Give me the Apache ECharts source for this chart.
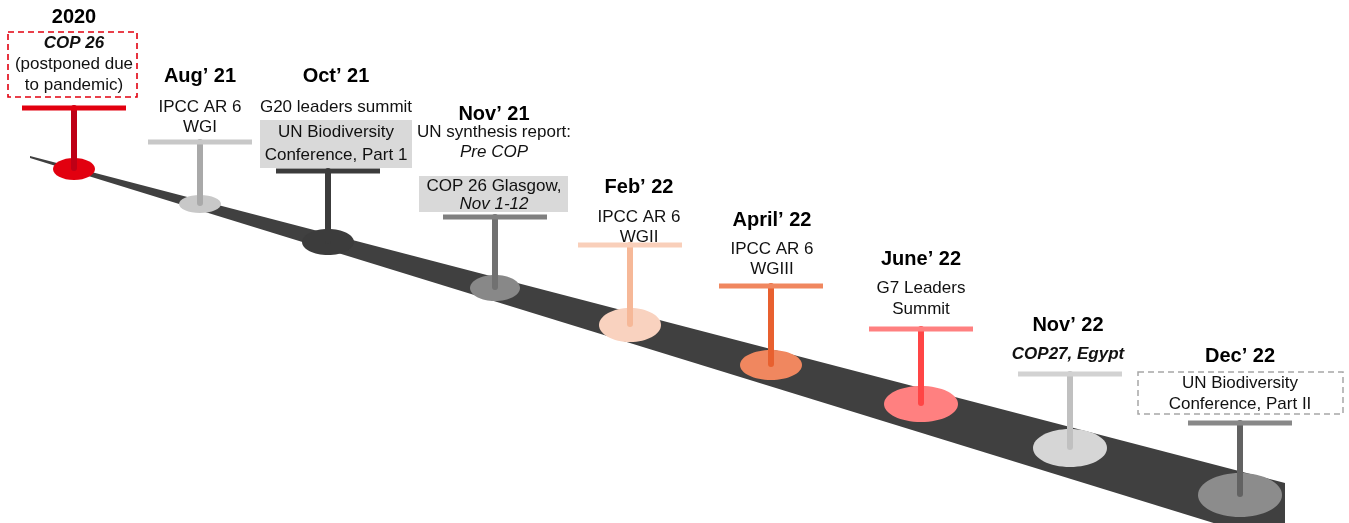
<!DOCTYPE html>
<html>
<head>
<meta charset="utf-8">
<script src="https://cdn.jsdelivr.net/npm/echarts@6/dist/echarts.min.js"></script>
<style>
html,body{margin:0;padding:0;background:#fff;}
#chart{width:1349px;height:523px;}
</style>
</head>
<body>
<div id="chart"></div>
<script>
// ---- data ----
const dates = ['2020', 'Aug\u2019 21', 'Oct\u2019 21', 'Nov\u2019 21', 'Feb\u2019 22', 'April\u2019 22', 'June\u2019 22', 'Nov\u2019 22', 'Dec\u2019 22'];
const notes = [
  ['COP 26', '(postponed due', 'to pandemic)'],
  ['IPCC AR 6', 'WGI'],
  ['G20 leaders summit'],
  ['UN synthesis report:', 'Pre COP'],
  ['IPCC AR 6', 'WGII'],
  ['IPCC AR 6', 'WGIII'],
  ['G7 Leaders', 'Summit'],
  ['COP27, Egypt'],
  []
];
const boxedNotes = [
  [], [], ['UN Biodiversity', 'Conference, Part 1'], ['COP 26 Glasgow,', 'Nov 1-12'],
  [], [], [], [], ['UN Biodiversity', 'Conference, Part II']
];
// timeline position of each event (x) and its place on the road (y)
const eventPos = [74, 200, 328, 495, 630, 771, 921, 1070, 1240];
const eventLevel = [169, 204, 242, 288, 325, 365, 404, 448, 495];
// height reached by each marker's stem (crossbar level)
const stemTop = [108, 142, 171, 217, 245, 286, 329, 374, 423];
// road outline
const roadOutline = [[30, 156], [1285, 483], [1285, 545], [30, 158]];

// ---- layout & style ----
const noteFonts = [
  ['bi', 'n', 'n'], ['n', 'n'], ['n'], ['n', 'i'], ['n', 'n'], ['n', 'n'], ['n', 'n'], ['bi'], []
];
const boxFonts = [[], [], ['n', 'n'], ['n', 'i'], [], [], [], [], ['n', 'n']];
const labelShift = [0, 0, 8, -1, 9, 1, 0, -2, 0];
const titleY = [17, 76, 76, 114, 187, 220, 259, 325, 356];
const noteY = [43, 107, 107, 132, 217, 249, 288, 354, 0];
const noteLH = [21, 20, 20, 20, 20, 20, 21, 20, 20];
const boxRect = [[8, 32, 137, 97], null, [260, 120, 412, 168], [419, 176, 568, 212], null, null, null, null, [1138, 372, 1343, 414]];
const boxStyle = ['redDash', null, 'grey', 'grey', null, null, null, null, 'greyDash'];
const boxLineY = [0, 0, 132, 186, 0, 0, 0, 0, 383];
const boxLH = [0, 0, 23, 18, 0, 0, 0, 0, 21];
const discRx = [21, 21, 26, 25, 31, 31, 37, 37, 42];
const discRy = [11, 9, 13, 13, 17, 15, 18, 19, 22];
const discColor = ['#E2000F', '#C8C8C8', '#3C3C3C', '#888888', '#F9D2BF', '#F0875F', '#FF8080', '#D6D6D6', '#8C8C8C'];
const stemColor = ['#BE0016', '#A9A9A9', '#3C3C3C', '#717171', '#F6B898', '#E8602F', '#FF4545', '#C0C0C0', '#626262'];
const barColor = ['#E2000F', '#C8C8C8', '#3C3C3C', '#808080', '#F9CFBA', '#F0875F', '#FF8080', '#D2D2D2', '#888888'];
const barHalfW = 52;
const FF = '"Liberation Sans", Arial, sans-serif';
function fontOf(code, size) {
  if (code === 'bi') return 'italic bold ' + size + 'px ' + FF;
  if (code === 'i') return 'italic ' + size + 'px ' + FF;
  if (code === 'b') return 'bold ' + size + 'px ' + FF;
  return size + 'px ' + FF;
}

const chart = echarts.init(document.getElementById('chart'), null, {renderer: 'canvas'});

function renderRoad(params, api) {
  const pts = roadOutline.map(p => api.coord(p));
  return {type: 'polygon', shape: {points: pts}, style: {fill: '#404040'}};
}

function renderEvent(params, api) {
  const i = params.dataIndex;
  const x = api.value(0), lvl = api.value(1), top = api.value(2);
  const c = api.coord([x, lvl]);
  const t = api.coord([x, top]);
  const sx = api.size([1, 1]);
  const children = [];
  children.push({type: 'ellipse', shape: {cx: c[0], cy: c[1], rx: discRx[i] * sx[0], ry: discRy[i] * sx[1]}, style: {fill: discColor[i]}});
  children.push({type: 'line', shape: {x1: t[0], y1: t[1], x2: c[0], y2: c[1] - 1}, style: {stroke: stemColor[i], lineWidth: 6, lineCap: 'round'}});
  children.push({type: 'rect', shape: {x: t[0] - barHalfW, y: t[1] - 2.5, width: barHalfW * 2, height: 5}, style: {fill: barColor[i]}});
  const lx = api.coord([x + labelShift[i], 0])[0];
  // box
  if (boxRect[i]) {
    const b = boxRect[i];
    const p0 = api.coord([b[0], b[1]]), p1 = api.coord([b[2], b[3]]);
    let st;
    if (boxStyle[i] === 'grey') st = {fill: '#D9D9D9'};
    else if (boxStyle[i] === 'redDash') st = {fill: '#fff', stroke: '#E2000F', lineWidth: 1.6, lineDash: [6, 4]};
    else st = {fill: '#fff', stroke: '#A6A6A6', lineWidth: 1.5, lineDash: [6, 4]};
    children.push({type: 'rect', shape: {x: p0[0], y: p0[1], width: p1[0] - p0[0], height: p1[1] - p0[1]}, style: st});
  }
  // title
  children.push({type: 'text', style: {text: dates[i], x: lx, y: api.coord([0, titleY[i]])[1], font: 'bold 20px ' + FF, fill: '#000', align: 'center', verticalAlign: 'middle'}});
  notes[i].forEach((ln, k) => {
    children.push({type: 'text', style: {text: ln, x: lx, y: api.coord([0, noteY[i] + k * noteLH[i]])[1], font: fontOf(noteFonts[i][k], 17), fill: '#111', align: 'center', verticalAlign: 'middle'}});
  });
  boxedNotes[i].forEach((ln, k) => {
    children.push({type: 'text', style: {text: ln, x: lx, y: api.coord([0, boxLineY[i] + k * boxLH[i]])[1], font: fontOf(boxFonts[i][k], 17), fill: '#111', align: 'center', verticalAlign: 'middle'}});
  });
  return {type: 'group', children: children};
}

chart.setOption({
  animation: false,
  grid: {left: 0, right: 0, top: 0, bottom: 0},
  xAxis: {type: 'value', min: 0, max: 1349, show: false},
  yAxis: {type: 'value', min: 0, max: 523, inverse: true, show: false},
  series: [
    {type: 'custom', renderItem: renderRoad, data: [[0, 0]], clip: true, silent: true, z: 1},
    {type: 'custom', renderItem: renderEvent, data: dates.map((d, i) => [eventPos[i], eventLevel[i], stemTop[i]]), silent: true, z: 2}
  ]
});
</script>
</body>
</html>
